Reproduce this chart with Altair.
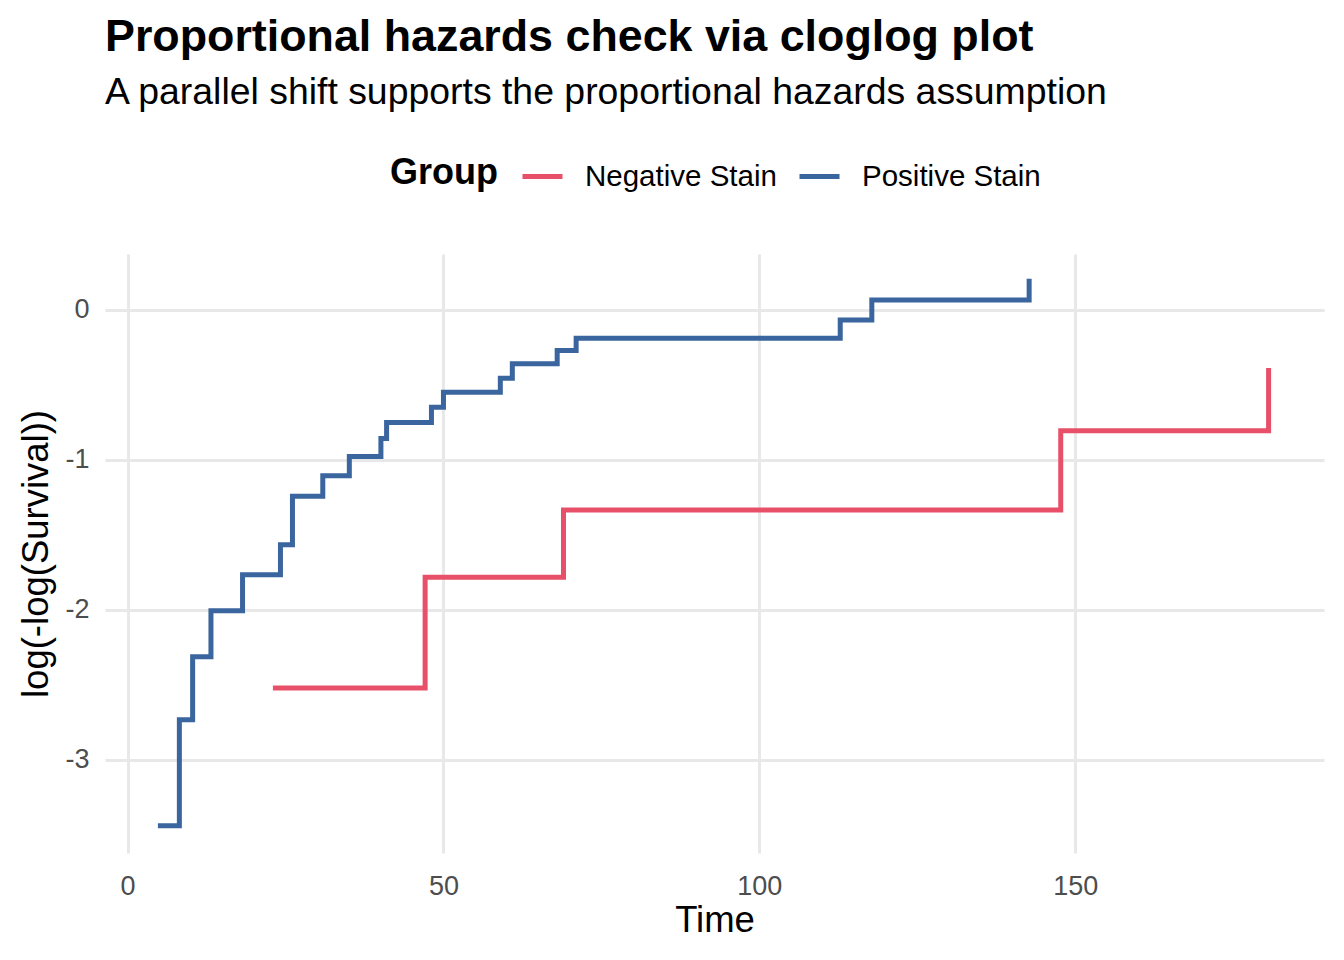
import altair as alt
import pandas as pd

pos_time = [5.2, 8.2, 10.3, 13.2, 18.2, 24.2, 26.1, 30.9, 35.1, 40.1, 41.0, 48.1, 50.0, 59.0, 60.9, 68.0, 71.0, 112.8, 117.8, 142.7]
pos_val = [-3.44, -2.733, -2.313, -2.007, -1.767, -1.567, -1.244, -1.107, -0.98, -0.86, -0.753, -0.651, -0.551, -0.458, -0.362, -0.273, -0.191, -0.069, 0.064, 0.189]
neg_time = [23.4, 47.1, 69.0, 147.7, 180.6]
neg_val = [-2.522, -1.784, -1.336, -0.807, -0.407]
groups = ["Negative Stain", "Positive Stain"]
colors = ["#E8506A", "#3A659E"]
x_ticks = [0, 50, 100, 150]
y_ticks = [-3, -2, -1, 0]

rows = []
for t, v in zip(neg_time, neg_val):
    rows.append({"Time": t, "Value": v, "Group": groups[0]})
for t, v in zip(pos_time, pos_val):
    rows.append({"Time": t, "Value": v, "Group": groups[1]})
df = pd.DataFrame(rows)

FONT = "Liberation Sans"

chart = alt.Chart(df).mark_line(interpolate="step-after", strokeWidth=5, strokeCap="square").encode(
    x=alt.X("Time:Q", title="Time",
            scale=alt.Scale(domain=[-3.57, 189.37], nice=False, zero=False),
            axis=alt.Axis(values=x_ticks, labelExpr="toString(datum.value)")),
    y=alt.Y("Value:Q", title="log(-log(Survival))",
            scale=alt.Scale(domain=[-3.621, 0.370], nice=False, zero=False),
            axis=alt.Axis(values=y_ticks, labelExpr="toString(datum.value)")),
    color=alt.Color("Group:N", scale=alt.Scale(domain=groups, range=colors),
                    legend=alt.Legend(title="Group", orient="none", legendX=285, legendY=-100,
                                      direction="horizontal", titleOrient="left",
                                      symbolType="stroke", symbolSize=1600, symbolStrokeWidth=5,
                                      labelFontSize=29.5, titleFontSize=36, titleFont=FONT, labelFont=FONT,
                                      titleFontWeight="bold", titleColor="black", labelColor="black",
                                      titlePadding=22, labelOffset=20, columnPadding=12,
                                      labelLimit=400, titleBaseline="middle")),
    detail="Group:N",
).properties(
    width=1219,
    height=599,
    title=alt.TitleParams(
        text="Proportional hazards check via cloglog plot",
        subtitle="A parallel shift supports the proportional hazards assumption",
        anchor="start", frame="group", font=FONT, fontSize=44.8, fontWeight="bold", color="black",
        subtitleFont=FONT, subtitleFontSize=37.4, subtitleColor="black", subtitlePadding=13,
        offset=42,
    ),
    autosize=alt.AutoSizeParams(type="none"),
    padding={"left": 97, "top": 246, "right": 12, "bottom": 90},
).configure_view(
    stroke=None
).configure_axis(
    domain=False, ticks=False, grid=True, gridColor="#E8E8E8", gridWidth=3,
    labelFont=FONT, labelFontSize=27, labelColor="#4D4D4D",
    titleFont=FONT, titleFontSize=36.5, titleColor="black", titleFontWeight="normal",
).configure_axisX(
    labelPadding=20, titlePadding=3
).configure_axisY(
    labelPadding=16, titlePadding=9
)

chart.save("out.html", embed_options={"renderer": "svg", "actions": False})
